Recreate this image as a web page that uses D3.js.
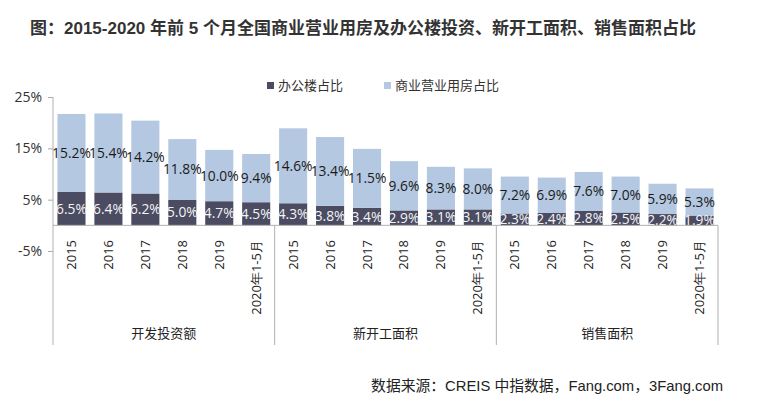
<!DOCTYPE html>
<html><head><meta charset="utf-8">
<script src="https://cdn.jsdelivr.net/npm/d3@7/dist/d3.min.js"></script>
<style>
body{margin:0;background:#fff;}
svg{display:block;}
</style></head>
<body>
<svg id="c" width="760" height="406"></svg>
<script>
const groups = ["开发投资额","新开工面积","销售面积"];
const years = ["2015","2016","2017","2018","2019","2020年1-5月"];
const office = [6.5,6.4,6.2,5.0,4.7,4.5, 4.3,3.8,3.4,2.9,3.1,3.1, 2.3,2.4,2.8,2.5,2.2,1.9];
const commercial = [15.2,15.4,14.2,11.8,10.0,9.4, 14.6,13.4,11.5,9.6,8.3,8.0, 7.2,6.9,7.6,7.0,5.9,5.3];
const seriesNames = ["办公楼占比","商业营业用房占比"];
const yTicks = [-5,5,15,25];

const colors = ["#4b4b62","#b4c8e1"];
const svg = d3.select("#c");
const fontCJK = "'Noto Sans CJK SC','Noto Sans',sans-serif";
const fontNum = "'Open Sans','Noto Sans',sans-serif";

const rows = [];
groups.forEach((g,gi)=>years.forEach((yr,yi)=>{
  const i = gi*years.length+yi;
  rows.push({key:g+"|"+yr, group:g, year:yr, office:office[i], commercial:commercial[i]});
}));

const L=53, R=718, yTop=97, yBot=251;
const x = d3.scaleBand().domain(rows.map(d=>d.key)).range([L,R]).paddingInner(0.24).paddingOuter(0.12);
const y = d3.scaleLinear().domain([-5,25]).range([yBot,yTop]);
const xg = d3.scaleBand().domain(groups).range([L,R]);

// title
svg.append("text").attr("x",30).attr("y",34)
  .style("font-family","'Liberation Sans','Noto Sans CJK SC',sans-serif").style("font-weight","bold").style("font-size","17px").style("fill","#333")
  .text("图：2015-2020 年前 5 个月全国商业营业用房及办公楼投资、新开工面积、销售面积占比");

// legend
const leg = [{x:267,name:seriesNames[0],c:colors[0]},{x:384,name:seriesNames[1],c:colors[1]}];
leg.forEach(l=>{
  svg.append("rect").attr("x",l.x).attr("y",82).attr("width",7).attr("height",7).attr("fill",l.c);
  svg.append("text").attr("x",l.x+11).attr("y",90).style("font-family",fontCJK).style("font-size","13px").style("fill","#333").text(l.name);
});

// stack
const stack = d3.stack().keys(["office","commercial"]);
const stacked = stack(rows);

svg.append("g").selectAll("g").data(stacked).join("g")
  .attr("fill",(d,i)=>colors[i])
  .selectAll("rect").data(d=>d).join("rect")
  .attr("x",d=>x(d.data.key)).attr("width",x.bandwidth())
  .attr("y",d=>y(d[1])).attr("height",d=>y(d[0])-y(d[1]));

// clip for labels
svg.append("clipPath").attr("id","plotclip").append("rect").attr("x",0).attr("y",0).attr("width",760).attr("height",y(0));

const lab = svg.append("g").attr("clip-path","url(#plotclip)");
stacked.forEach((s,si)=>{
  lab.selectAll(null).data(s).join("text")
    .attr("x",d=>x(d.data.key)+x.bandwidth()/2)
    .attr("y",d=>(y(d[0])+y(d[1]))/2)
    .attr("dy","0.36em")
    .attr("text-anchor","middle")
    .style("font-family",fontNum).style("font-size","13.8px")
    .style("fill",si===0?"#f4f4f4":"#1a1a1a")
    .text(d=>d3.format(".1f")(d.data[si===0?"office":"commercial"])+"%");
});

// y axis
const yAxis = d3.axisLeft(y).tickValues(yTicks).tickSize(5).tickFormat(d=>d+"%");
const ya = svg.append("g").attr("transform",`translate(${L},0)`).call(yAxis);
ya.select(".domain").remove();
ya.selectAll(".tick line").attr("stroke","#aaaaaa");
ya.selectAll(".tick text").attr("x",-11).style("font-family",fontNum).style("font-size","14px").style("fill","#333");

const axisColor="#b0b0b0";
svg.append("line").attr("x1",L).attr("x2",L).attr("y1",yTop).attr("y2",345).attr("stroke",axisColor);
svg.append("line").attr("x1",L).attr("x2",R).attr("y1",y(0)).attr("y2",y(0)).attr("stroke",axisColor);
groups.forEach(g=>{
  const xe = xg(g)+xg.bandwidth();
  svg.append("line").attr("x1",xe).attr("x2",xe).attr("y1",y(0)).attr("y2",345).attr("stroke",axisColor);
});

// category labels (rotated)
svg.append("g").selectAll("text").data(rows).join("text")
  .attr("transform",d=>`translate(${x(d.key)+x.bandwidth()/2+4.5},240) rotate(-90)`)
  .attr("text-anchor","end")
  .style("font-family",fontNum).style("font-size","13px").style("fill","#222")
  .text(d=>d.year);

// group labels
svg.append("g").selectAll("text").data(groups).join("text")
  .attr("x",d=>xg(d)+xg.bandwidth()/2).attr("y",338)
  .attr("text-anchor","middle")
  .style("font-family",fontCJK).style("font-size","13px").style("fill","#222")
  .text(d=>d);

// source
svg.append("text").attr("x",723).attr("y",391).attr("text-anchor","end")
  .style("font-family","'Liberation Sans','Noto Sans CJK SC',sans-serif").style("font-size","14.8px").style("fill","#222")
  .text("数据来源：CREIS 中指数据，Fang.com，3Fang.com");
</script>
</body></html>
